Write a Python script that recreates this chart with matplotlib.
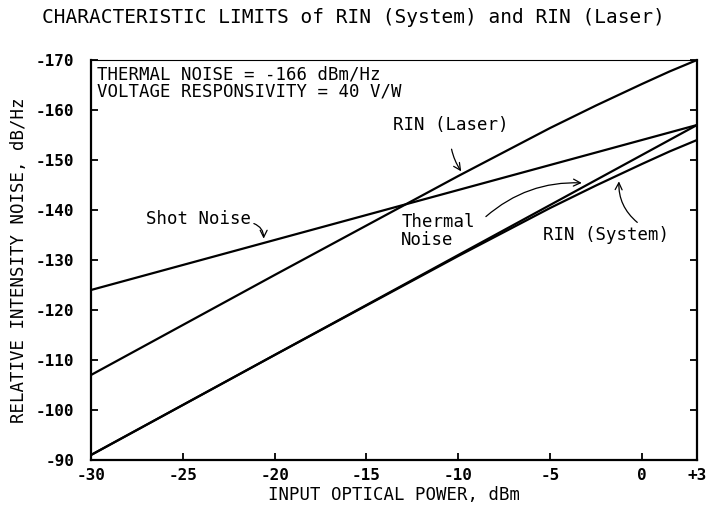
import matplotlib
matplotlib.use('Agg')
import matplotlib.pyplot as plt

# input optical power, dBm
power = [-30, -25, -20, -15, -10, -7.5, -5, -2.5, 0, 1.5, 3]

# relative intensity noise, dB/Hz
shot_noise = [-124, -129, -134, -139, -144, -146.5, -149, -151.5, -154, -155.5, -157]
thermal_noise = [-91, -101, -111, -121, -131, -136, -141, -146, -151, -154, -157]
rin_system = [-91, -101, -111, -120.9, -130.8, -135.6, -140.4, -144.9, -149.2, -151.7, -154]
rin_laser = [-107, -117, -127, -136.9, -146.8, -151.6, -156.4, -160.9, -165.2, -167.7, -170]

xticks = [-30, -25, -20, -15, -10, -5, 0, 3]
xtick_labels = ['-30', '-25', '-20', '-15', '-10', '-5', '0', '+3']
yticks = [-90, -100, -110, -120, -130, -140, -150, -160, -170]

plt.rcParams['font.family'] = 'DejaVu Sans Mono'
plt.rcParams['axes.unicode_minus'] = False

fig = plt.figure(figsize=(7.06, 5.08), dpi=100)
ax = fig.add_axes([0.1289, 0.0945, 0.8584, 0.7874])

for series in (shot_noise, thermal_noise, rin_system, rin_laser):
    ax.plot(power, series, color='black', lw=1.6)

ax.set_xlim(-30, 3)
ax.set_ylim(-90, -170)
ax.set_xticks(xticks)
ax.set_xticklabels(xtick_labels)
ax.set_yticks(yticks)
ax.tick_params(direction='in', length=5, width=1.3, labelsize=11.5,
               right=True, top=False)
ax.tick_params(axis='y', pad=12)
ax.tick_params(axis='x', pad=6)
for lbl in ax.get_xticklabels() + ax.get_yticklabels():
    lbl.set_fontweight('bold')
for side in ('left', 'bottom', 'right'):
    ax.spines[side].set_linewidth(1.6)
ax.spines['top'].set_linewidth(0.8)

fs = 12.5
ax.set_xlabel('INPUT OPTICAL POWER, dBm', fontsize=fs, labelpad=2)
ax.set_ylabel('RELATIVE INTENSITY NOISE, dB/Hz', fontsize=fs, labelpad=6)
fig.text(0.5, 0.965, 'CHARACTERISTIC LIMITS of RIN (System) and RIN (Laser)',
         ha='center', va='center', fontsize=14)

ax.text(0.01, 0.985, 'THERMAL NOISE = -166 dBm/Hz\nVOLTAGE RESPONSIVITY = 40 V/W',
        transform=ax.transAxes, ha='left', va='top', fontsize=fs,
        linespacing=0.9)

arrow = dict(arrowstyle='->', color='black', lw=0.9)
ax.annotate('RIN (Laser)', xy=(-9.8, -147.5), xytext=(-10.4, -157),
            ha='center', va='center', fontsize=fs,
            arrowprops=dict(arrow, shrinkA=9, shrinkB=1,
                            connectionstyle='arc3,rad=0.2'))
ax.annotate('Shot Noise', xy=(-20.6, -134), xytext=(-27.0, -138.2),
            ha='left', va='center', fontsize=fs,
            arrowprops=dict(arrow, shrinkA=0, shrinkB=1,
                            connectionstyle='arc3,rad=-0.4',
                            relpos=(1.0, 0.3)))
ax.annotate('Thermal\nNoise', xy=(-3.2, -145.4), xytext=(-13.1, -135.8),
            ha='left', va='center', fontsize=fs, linespacing=1.0,
            arrowprops=dict(arrow, shrinkA=0, shrinkB=1,
                            connectionstyle='arc3,rad=-0.2',
                            relpos=(1.15, 0.9)))
ax.annotate('RIN (System)', xy=(-1.25, -146), xytext=(-5.4, -135),
            ha='left', va='center', fontsize=fs,
            arrowprops=dict(arrow, shrinkA=0, shrinkB=1,
                            connectionstyle='arc3,rad=-0.25',
                            relpos=(0.75, 1.2)))

fig.savefig('out.png', dpi=100)
